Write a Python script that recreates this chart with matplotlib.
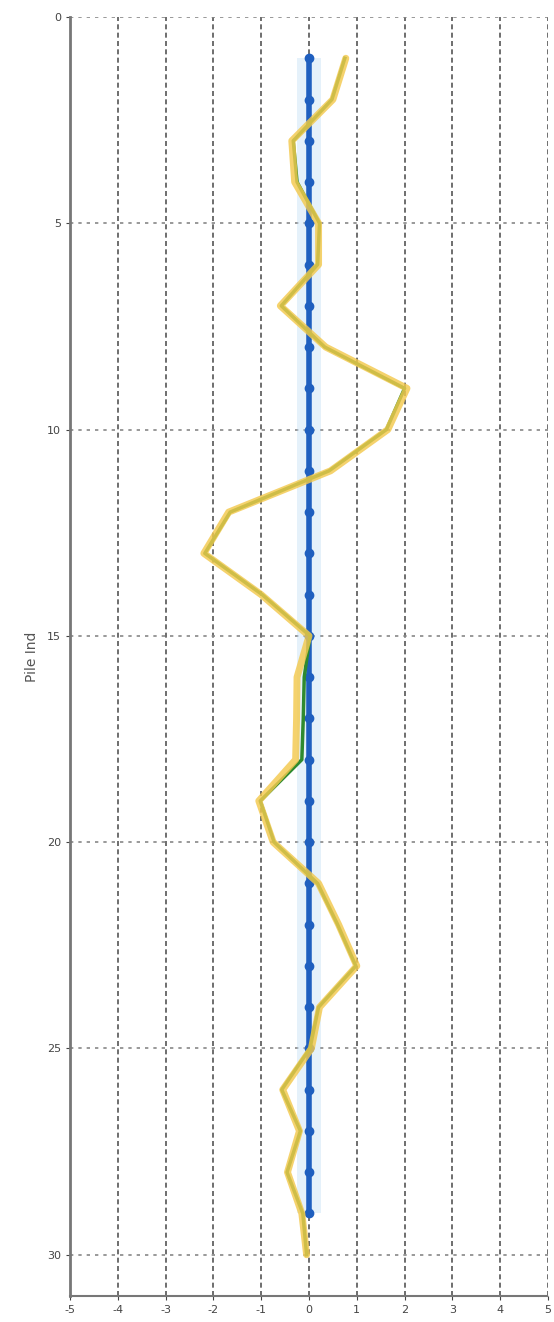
import matplotlib
matplotlib.use("Agg")
import matplotlib.pyplot as plt
import numpy as np

# ---- data ----
depth_blue = list(range(1, 30))
blue_vals = [0.0] * 29

depth_line = list(range(1, 31))
orange_vals = [0.77, 0.50, -0.36, -0.30, 0.20, 0.20, -0.60, 0.35, 2.05, 1.65,
               0.45, -1.68, -2.20, -1.00, 0.00, -0.25, -0.26, -0.28, -1.05, -0.75,
               0.20, 0.62, 1.00, 0.22, 0.05, -0.55, -0.20, -0.45, -0.15, -0.05]
green_vals = [0.75, 0.48, -0.33, -0.25, 0.22, 0.18, -0.58, 0.33, 2.00, 1.62,
              0.42, -1.65, -2.18, -0.98, 0.02, -0.10, -0.12, -0.15, -1.02, -0.73,
              0.18, 0.60, 0.98, 0.20, 0.02, -0.57, -0.18, -0.46, -0.13, -0.05]

x_ticks = [-5, -4, -3, -2, -1, 0, 1, 2, 3, 4, 5]
y_ticks = [0, 5, 10, 15, 20, 25, 30]
y_label = "Pile Ind"

fig = plt.figure(figsize=(5.54, 13.22), dpi=100)
ax = fig.add_axes([70 / 554, 1 - 1296 / 1322, 478 / 554, (1296 - 17) / 1322])

# band around baseline
ax.fill_betweenx(depth_blue, [v - 0.25 for v in blue_vals], [v + 0.25 for v in blue_vals],
                 color="#b5d7f2", alpha=0.35, lw=0, zorder=2)
ax.plot(blue_vals, depth_blue, color="#1f5fbf", lw=4, marker="o", ms=6,
        zorder=4)

ax.plot(green_vals, depth_line, color="#2f8a2f", lw=2.5, zorder=5)
ax.plot(orange_vals, depth_line, color="#f3c94d", lw=5, alpha=0.82, zorder=6,
        solid_capstyle="round", solid_joinstyle="round")

ax.set_xlim(-5, 5)
ax.set_ylim(31, 0)
ax.set_xticks(x_ticks)
ax.set_xticklabels([str(t) for t in x_ticks])
ax.set_yticks(y_ticks)
ax.set_yticklabels([str(t) for t in y_ticks])
ax.tick_params(labelsize=8, colors="#444444", length=3)

for xv in x_ticks:
    ax.axvline(xv, color="#555555", lw=1.2, ls=(0, (3, 2)), zorder=1)
for yv in y_ticks:
    ax.axhline(yv, color="#888888", lw=1.2, ls=(0, (2, 3)), zorder=1)

ax.spines["top"].set_visible(False)
ax.spines["right"].set_visible(False)
ax.spines["left"].set_color("#777777")
ax.spines["left"].set_linewidth(2)
ax.spines["bottom"].set_color("#777777")
ax.spines["bottom"].set_linewidth(1.5)
ax.spines["bottom"].set_linestyle((0, (4, 1)))

ax.set_ylabel(y_label, fontsize=10, color="#555555", labelpad=6)

fig.savefig("out.png", dpi=100)
